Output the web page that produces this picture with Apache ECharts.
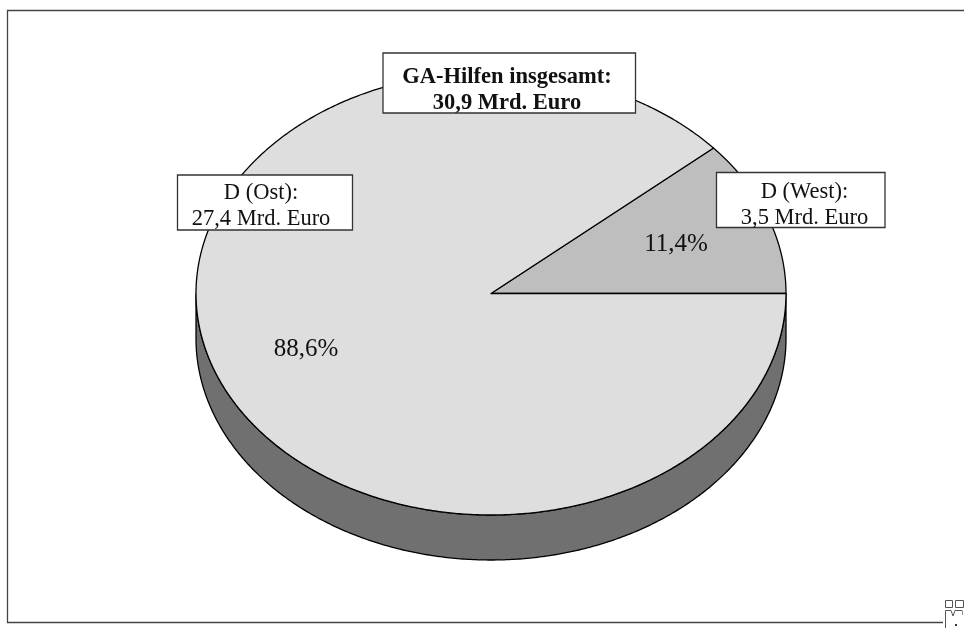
<!DOCTYPE html>
<html><head><meta charset="utf-8">
<style>html,body{margin:0;padding:0;background:#fff}#c{width:964px;height:628px}</style>
<script src="https://cdn.jsdelivr.net/npm/echarts@6/dist/echarts.min.js"></script>
</head><body><div id="c"></div>
<script>
const categories = ['D (West)', 'D (Ost)'];
const shares = [11.4, 88.6];
const amounts = ['3,5', '27,4'];
const shareLabels = ['11,4%', '88,6%'];
const totalLabel = ['GA-Hilfen insgesamt:', '30,9 Mrd. Euro'];

const CX = 491, CY = 293.5, RX = 295, RY = 221.5, DEPTH = 45;
const SERIF = '"Liberation Serif","Times New Roman",serif';
const sliceColors = ['#BEBEBE', '#DEDEDE'];
const pctPos = [[676, 244], [306, 349]];
const boxes = [
  {x: 716.5, y: 172.5, width: 168.5, height: 55, tx: 804.5, ty: 205.5},
  {x: 177.5, y: 175, width: 175, height: 55, tx: 261, ty: 206.5}
];
const totalBox = {x: 383, y: 53, width: 252.5, height: 60, tx: 507, ty: 90.5};
const pt = (deg, dy) => [CX + RX * Math.cos(deg * Math.PI / 180), CY + (dy || 0) - RY * Math.sin(deg * Math.PI / 180)];

function box(r, lines, bold) {
  return [
    {type: 'rect', z2: 10, shape: {x: r.x, y: r.y, width: r.width, height: r.height}, style: {fill: '#fff', stroke: '#333', lineWidth: 1.3}},
    {type: 'text', z2: 11, style: {
      x: r.tx, y: r.ty, text: lines.join('\n'), align: 'center', verticalAlign: 'middle',
      font: (bold ? 'bold ' : '') + '22.5px ' + SERIF, lineHeight: 26, fill: '#111'}}
  ];
}

const total = shares.reduce((a, b) => a + b, 0);
const data = shares.map((v, i) => ({name: categories[i], value: v}));

const option = {
  animation: false,
  backgroundColor: '#fff',
  series: [{
    type: 'custom',
    coordinateSystem: 'none',
    data: data,
    silent: true,
    clip: false,
    renderItem: function (params, api) {
      const i = params.dataIndex;
      const before = shares.slice(0, i).reduce((a, b) => a + b, 0);
      const start = before / total * 360, end = (before + shares[i]) / total * 360;
      const pts = [[CX, CY]];
      for (let k = 0; k <= 720; k++) pts.push(pt(start + (end - start) * k / 720));
      const children = [];
      if (i === 0) {
        const side = [];
        for (let a = 180; a <= 360; a += 0.5) side.push(pt(a));
        for (let a = 360; a >= 180; a -= 0.5) side.push(pt(a, DEPTH));
        children.push({type: 'polygon', z2: 1, shape: {points: side}, style: {fill: '#707070', stroke: '#000', lineWidth: 1.3}});
      }
      children.push({type: 'polygon', z2: 2 + i, shape: {points: pts}, style: {fill: sliceColors[i], stroke: '#000', lineWidth: 1.3, lineJoin: 'round'}});
      children.push({type: 'text', z2: 5, style: {
        x: pctPos[i][0], y: pctPos[i][1], text: shareLabels[i], align: 'center', verticalAlign: 'middle',
        font: '25px ' + SERIF, fill: '#111'}});
      children.push(...box(boxes[i], [categories[i] + ':', amounts[i] + ' Mrd. Euro']));
      if (i === 1) children.push(...box(totalBox, totalLabel, true));
      return {type: 'group', children: children};
    }
  }],
  graphic: {elements: [
    {type: 'polyline', shape: {points: [[964, 10.5], [7.5, 10.5], [7.5, 622.5], [943, 622.5]]}, style: {fill: null, stroke: '#444', lineWidth: 1.3}},
    {type: 'rect', shape: {x: 945.5, y: 600.5, width: 7, height: 7}, style: {fill: null, stroke: '#555', lineWidth: 1}},
    {type: 'rect', shape: {x: 955.5, y: 600.5, width: 8, height: 7}, style: {fill: null, stroke: '#555', lineWidth: 1}},
    {type: 'polyline', shape: {points: [[945.5, 628], [945.5, 610.5], [951, 610.5], [953, 616], [955, 610.5], [962, 610.5]]}, style: {fill: null, stroke: '#555', lineWidth: 1}},
    {type: 'polyline', shape: {points: [[962.5, 610.5], [962.5, 615]]}, style: {fill: null, stroke: '#888', lineWidth: 1}},
    {type: 'rect', shape: {x: 955, y: 624, width: 2, height: 2}, style: {fill: '#333'}}
  ]}
};
const chart = echarts.init(document.getElementById('c'), null, {renderer: 'canvas'});
chart.setOption(option);
</script></body></html>
